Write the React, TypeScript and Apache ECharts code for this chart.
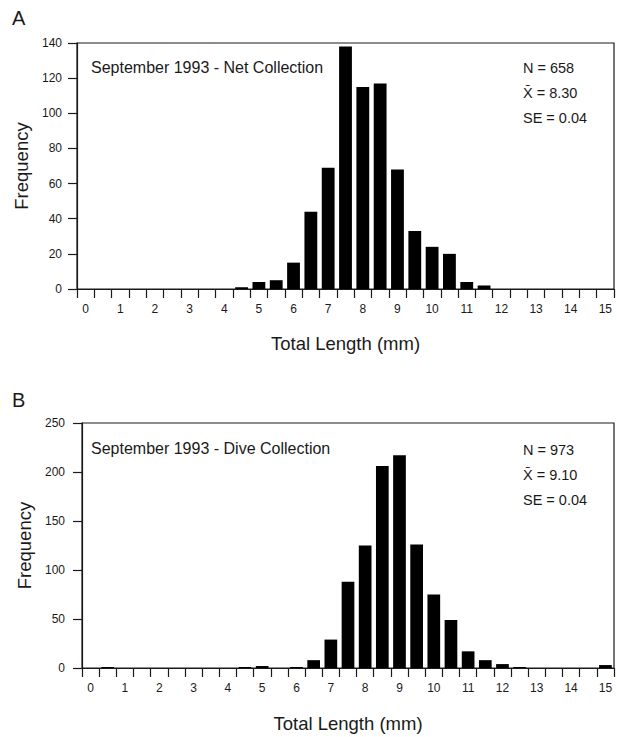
import React, { useEffect, useRef } from "react";
import * as echarts from "echarts";

const categories = [
  "0", "0.5", "1", "1.5", "2", "2.5", "3", "3.5", "4", "4.5",
  "5", "5.5", "6", "6.5", "7", "7.5", "8", "8.5", "9", "9.5",
  "10", "10.5", "11", "11.5", "12", "12.5", "13", "13.5", "14", "14.5", "15",
];

const netValues = [
  0, 0, 0, 0, 0, 0, 0, 0, 0, 1,
  4, 5, 15, 44, 69, 138, 115, 117, 68, 33,
  24, 20, 4, 2, 0, 0, 0, 0, 0, 0, 0,
];

const diveValues = [
  0, 1, 0, 0, 0, 0, 0, 0, 0, 1,
  2, 0, 1, 8, 29, 88, 125, 206, 217, 126,
  75, 49, 17, 8, 4, 1, 0, 0, 0, 0, 3,
];

const netStats = ["N = 658", "X\u0304 = 8.30", "SE = 0.04"];
const diveStats = ["N = 973", "X\u0304 = 9.10", "SE = 0.04"];

const FONT = "Liberation Sans, Arial, Helvetica, sans-serif";
const INK = "#1a1a1a";

function xAxisFor(gridIndex: number, nameGap: number) {
  return {
    type: "category",
    gridIndex,
    data: categories,
    boundaryGap: true,
    name: "Total Length (mm)",
    nameLocation: "middle",
    nameGap,
    nameTextStyle: { fontFamily: FONT, fontSize: 18.5, color: INK },
    axisLine: { show: true, lineStyle: { color: INK, width: 1.2 } },
    axisTick: { show: true, interval: 0, length: 9, lineStyle: { color: INK, width: 1.2 } },
    axisLabel: {
      interval: 1,
      margin: 14,
      fontFamily: FONT,
      fontSize: 12,
      color: INK,
      formatter: (v: string) => v,
    },
    splitLine: { show: false },
  };
}

function yAxisFor(gridIndex: number, max: number, interval: number, nameGap: number, labelMargin: number) {
  return {
    type: "value",
    gridIndex,
    min: 0,
    max,
    interval,
    name: "Frequency",
    nameLocation: "middle",
    nameGap,
    nameTextStyle: { fontFamily: FONT, fontSize: 18.5, color: INK },
    axisLine: { show: true, lineStyle: { color: INK, width: 1.2 } },
    axisTick: { show: true, length: 9, lineStyle: { color: INK, width: 1.2 } },
    axisLabel: { margin: labelMargin, fontFamily: FONT, fontSize: 12, color: INK },
    splitLine: { show: false },
  };
}

function statTexts(lines: string[], top: number) {
  return lines.map((t, i) => ({
    type: "text",
    left: 523,
    top: top + i * 25,
    style: { text: t, fontFamily: FONT, fontSize: 14.5, fill: INK },
  }));
}

export default function App() {
  const ref = useRef<HTMLDivElement>(null);

  useEffect(() => {
    if (!ref.current) return;
    const chart = echarts.init(ref.current, null, { renderer: "svg" });
    chart.setOption({
      animation: false,
      backgroundColor: "#ffffff",
      grid: [
        { left: 77, right: 3, top: 43, height: 246, show: true, borderColor: INK, borderWidth: 1.2, backgroundColor: "transparent" },
        { left: 82, right: 3, top: 423, height: 245, show: true, borderColor: INK, borderWidth: 1.2, backgroundColor: "transparent" },
      ],
      xAxis: [xAxisFor(0, 45), xAxisFor(1, 46)],
      yAxis: [yAxisFor(0, 140, 20, 36, 15), yAxisFor(1, 250, 50, 41, 17)],
      series: [
        {
          type: "bar",
          xAxisIndex: 0,
          yAxisIndex: 0,
          data: netValues,
          barCategoryGap: "26%",
          itemStyle: { color: "#000000" },
        },
        {
          type: "bar",
          xAxisIndex: 1,
          yAxisIndex: 1,
          data: diveValues,
          barCategoryGap: "26%",
          itemStyle: { color: "#000000" },
        },
      ],
      graphic: [
        { type: "text", left: 12, top: 8, style: { text: "A", fontFamily: FONT, fontSize: 20, fill: INK } },
        { type: "text", left: 12, top: 390, style: { text: "B", fontFamily: FONT, fontSize: 20, fill: INK } },
        {
          type: "text",
          left: 91,
          top: 59,
          style: { text: "September 1993 - Net Collection", fontFamily: FONT, fontSize: 16, fill: INK },
        },
        {
          type: "text",
          left: 91,
          top: 440,
          style: { text: "September 1993 - Dive Collection", fontFamily: FONT, fontSize: 16, fill: INK },
        },
        ...statTexts(netStats, 60),
        ...statTexts(diveStats, 442),
      ],
    });
    return () => chart.dispose();
  }, []);

  return (
    <div
      ref={ref}
      style={{ position: "fixed", left: 0, top: 0, width: 617, height: 737, background: "#fff" }}
    />
  );
}
